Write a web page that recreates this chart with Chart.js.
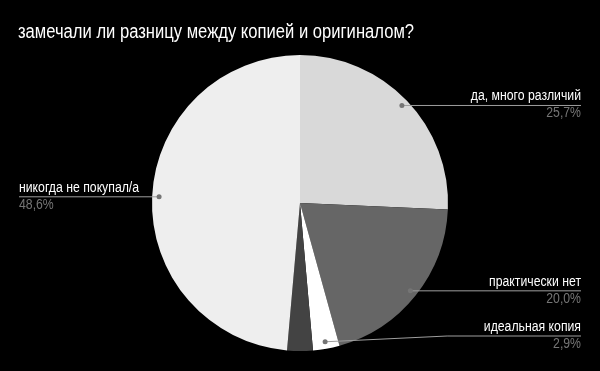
<!DOCTYPE html>
<html>
<head>
<meta charset="utf-8">
<script src="https://cdn.jsdelivr.net/npm/chart.js@4.4.0/dist/chart.umd.min.js"></script>
<style>
  html, body { margin: 0; padding: 0; background: #000; }
  #wrap { width: 600px; height: 371px; position: relative; }
</style>
</head>
<body>
<div id="wrap"><canvas id="pieChart"></canvas></div>
<script>
// данные опроса
const TITLE = 'замечали ли разницу между копией и оригиналом?';
const LABELS = ['да, много различий', 'практически нет', 'идеальная копия', '', 'никогда не покупал/а'];
const VALUES = [25.7, 20.0, 2.9, 2.8, 48.6];
const COLORS = ['#d9d9d9', '#666666', '#ffffff', '#434343', '#eeeeee'];

const FONT = "'Liberation Sans', Arial, sans-serif";

// текст, слегка сжатый по горизонтали (как на скриншоте)
function squeezedText(ctx, text, x, y, size, sx, align) {
    ctx.save();
    ctx.font = size + 'px ' + FONT;
    ctx.textBaseline = 'middle';
    ctx.translate(x, y);
    ctx.scale(sx, 1);
    ctx.textAlign = align;
    ctx.fillText(text, 0, 0);
    ctx.restore();
}

// подписи с выносками как в Google Sheets
const calloutPlugin = {
    id: 'callouts',
    afterDraw(chart) {
        const ctx = chart.ctx;
        const meta = chart.getDatasetMeta(0);
        const W = chart.width;
        ctx.save();

        // заголовок
        ctx.fillStyle = '#ffffff';
        squeezedText(ctx, TITLE, 18, 32, 20, 0.83, 'left');

        meta.data.forEach((arc, i) => {
            if (!LABELS[i]) return;
            const p = arc.getProps(['x', 'y', 'startAngle', 'endAngle', 'outerRadius'], true);
            const mid = (p.startAngle + p.endAngle) / 2;
            const r = p.outerRadius * 0.953;
            const dx = p.x + Math.cos(mid) * r;
            const dy = p.y + Math.sin(mid) * r;
            const right = Math.cos(mid) >= 0;
            const lineY = Math.min(dy, 336);
            const edge = right ? W - 19 : 19;

            ctx.strokeStyle = '#9e9e9e';
            ctx.lineWidth = 1;
            ctx.beginPath();
            ctx.moveTo(dx, dy);
            if (lineY !== dy) {
                ctx.lineTo(dx + 122, lineY);
            }
            ctx.lineTo(edge, lineY);
            ctx.stroke();

            ctx.fillStyle = '#757575';
            ctx.beginPath();
            ctx.arc(dx, dy, 2.5, 0, Math.PI * 2);
            ctx.fill();

            const align = right ? 'right' : 'left';
            ctx.fillStyle = '#ffffff';
            squeezedText(ctx, LABELS[i], edge, lineY - 9, 14, 0.875, align);
            ctx.fillStyle = '#757575';
            squeezedText(ctx, VALUES[i].toFixed(1).replace('.', ',') + '%', edge, lineY + 8, 14, 0.875, align);
        });
        ctx.restore();
    }
};

new Chart(document.getElementById('pieChart'), {
    type: 'pie',
    data: {
        labels: LABELS,
        datasets: [{
            data: VALUES,
            backgroundColor: COLORS,
            borderWidth: 0
        }]
    },
    options: {
        responsive: true,
        maintainAspectRatio: false,
        animation: false,
        layout: { padding: { top: 55, bottom: 20, left: 0, right: 0 } },
        plugins: {
            legend: { display: false },
            tooltip: { enabled: false }
        }
    },
    plugins: [calloutPlugin]
});
</script>
</body>
</html>
